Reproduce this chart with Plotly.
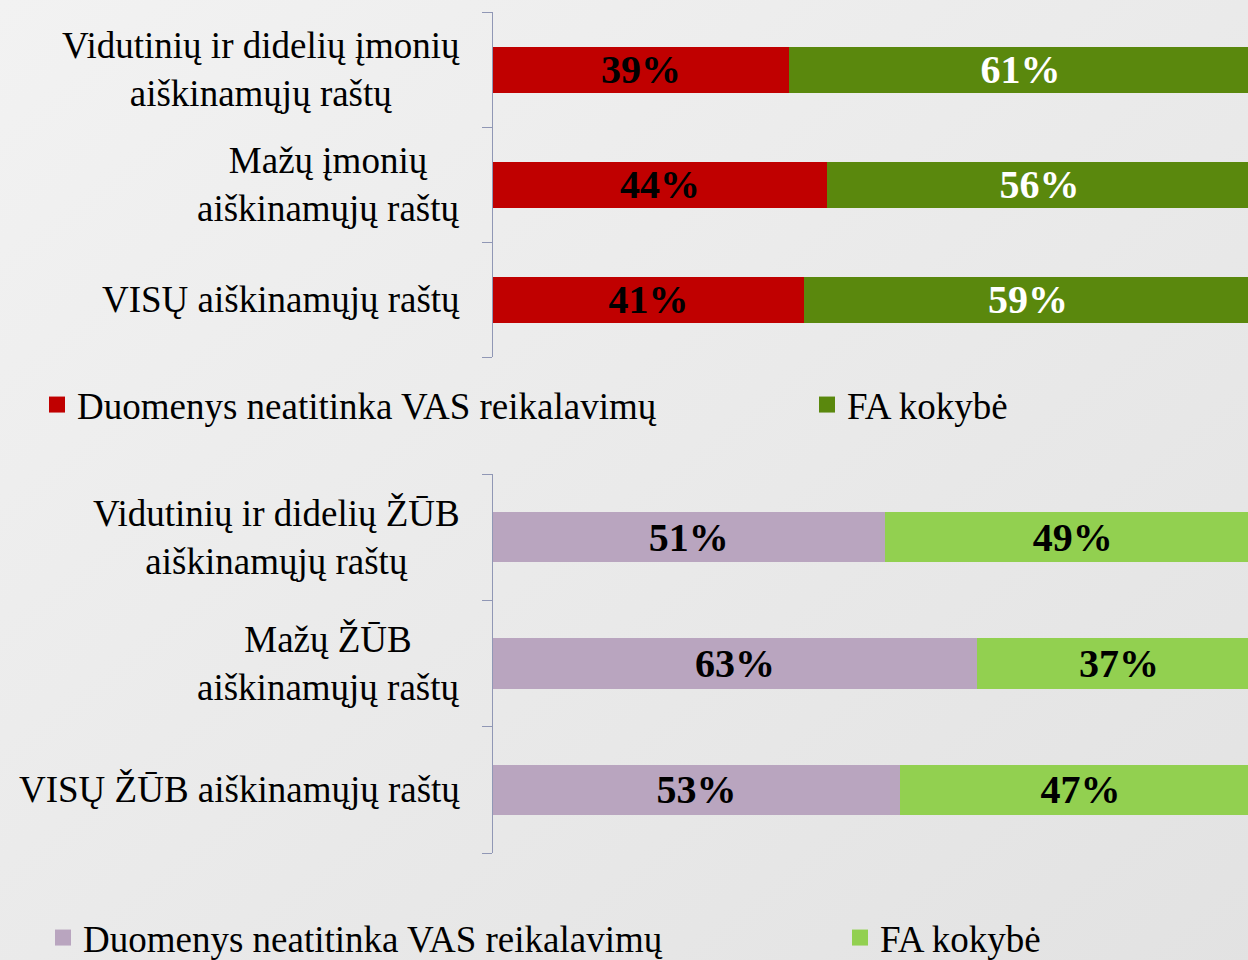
import base64
import plotly.graph_objects as go

# ---- data ----
cats_top = ["Vidutinių ir didelių įmonių<br>aiškinamųjų raštų",
            "Mažų įmonių<br>aiškinamųjų raštų",
            "VISŲ aiškinamųjų raštų"]
neatitinka_top = [39, 44, 41]
fa_top = [61, 56, 59]

cats_bot = ["Vidutinių ir didelių ŽŪB<br>aiškinamųjų raštų",
            "Mažų ŽŪB<br>aiškinamųjų raštų",
            "VISŲ ŽŪB aiškinamųjų raštų"]
neatitinka_bot = [51, 63, 53]
fa_bot = [49, 37, 47]

series_names = ["Duomenys neatitinka VAS reikalavimų", "FA kokybė"]

FONT = "Liberation Serif, Times New Roman, serif"
BG = "#ebebeb"
AXIS = "#9097b5"
LBL = 37

W, H = 1248, 985   # figure a bit taller than the window; bottom legend is cut like the reference
x0 = 493 / W

fig = go.Figure()

def add_bars(cats, a, b, xa, ya, legends, colors, txtcolors):
    for vals, name, col, tc, lg in zip([a, b], series_names, colors, txtcolors, legends):
        fig.add_trace(go.Bar(
            y=cats, x=[v / 100 for v in vals], orientation="h", name=name,
            marker=dict(color=col, line=dict(width=0)),
            text=[f"{v}%" for v in vals], textposition="inside",
            insidetextanchor="middle", constraintext="none",
            textfont=dict(family=FONT, size=40, color=tc, weight="bold"),
            width=0.4, xaxis=xa, yaxis=ya, showlegend=False,
            hoverinfo="skip"))
        fig.add_trace(go.Scatter(
            x=[None], y=[None], mode="markers", name=name,
            marker=dict(symbol="square", size=17, color=col),
            xaxis=xa, yaxis=ya, legend=lg, showlegend=True, hoverinfo="skip"))

add_bars(cats_top, neatitinka_top, fa_top, "x", "y", ["legend", "legend2"],
         ["#c00000", "#5a880d"], ["black", "white"])
add_bars(cats_bot, neatitinka_bot, fa_bot, "x2", "y2", ["legend3", "legend4"],
         ["#b9a5bf", "#92d050"], ["black", "black"])

def yaxis_cfg(cats, top_px, bot_px, anchor):
    return dict(domain=[1 - bot_px / H, 1 - top_px / H],
                categoryorder="array", categoryarray=cats[::-1],
                autorange=False, range=[-0.5, 2.5],
                showticklabels=False, ticks="outside", tickson="boundaries",
                ticklen=10, tickcolor=AXIS, tickwidth=1,
                showline=True, linecolor=AXIS, linewidth=1,
                showgrid=False, zeroline=False, anchor=anchor)

def legend_cfg(text_x_px, y_px):
    return dict(orientation="h", x=(text_x_px - 40) / W, y=1 - y_px / H,
                xanchor="left", yanchor="middle", bgcolor="rgba(0,0,0,0)",
                font=dict(family=FONT, size=LBL, color="black"),
                itemsizing="trace")

# soft diagonal background gradient
svg = ('<svg xmlns="http://www.w3.org/2000/svg" width="100" height="100" '
       'preserveAspectRatio="none"><defs><linearGradient id="g" x1="0" y1="0" '
       'x2="1" y2="1"><stop offset="0" stop-color="#f2f2f2"/>'
       '<stop offset="1" stop-color="#e2e2e2"/></linearGradient></defs>'
       '<rect width="100" height="100" fill="url(#g)"/></svg>')
bg_src = "data:image/svg+xml;base64," + base64.b64encode(svg.encode()).decode()

fig.update_layout(
    width=W, height=H, barmode="stack",
    margin=dict(l=0, r=0, t=0, b=0),
    paper_bgcolor=BG, plot_bgcolor="rgba(0,0,0,0)",
    font=dict(family=FONT, size=LBL, color="black"),
    images=[dict(source=bg_src, xref="paper", yref="paper", x=0, y=1,
                 sizex=1, sizey=1, xanchor="left", yanchor="top",
                 sizing="stretch", layer="below")],
    xaxis=dict(domain=[x0, 1], range=[0, (W - 493) / 759], visible=False, anchor="y"),
    xaxis2=dict(domain=[x0, 1], range=[0, (W - 493) / 768], visible=False, anchor="y2"),
    yaxis=yaxis_cfg(cats_top, 12, 357, "x"),
    yaxis2=yaxis_cfg(cats_bot, 474, 853, "x2"),
    legend=legend_cfg(77, 405),
    legend2=legend_cfg(847, 405),
    legend3=legend_cfg(83, 938),
    legend4=legend_cfg(880, 938),
)

# category labels: lines centred on each other, block right-aligned next to the axis
for cats, ya in [(cats_top, "y"), (cats_bot, "y2")]:
    for c in cats:
        fig.add_annotation(text=c, xref="paper", yref=ya, x=462 / W, y=c,
                           xanchor="right", yanchor="middle", align="center",
                           showarrow=False,
                           font=dict(family=FONT, size=LBL, color="black"))

fig.write_html(
    "out.html",
    config={"displayModeBar": False},
    post_script=("var s=document.documentElement.style;s.margin='0';s.padding='0';"
                 "s.overflow='hidden';s.height='960px';s.background='#e6e6e6';"
                 "var b=document.body.style;b.margin='0';b.padding='0';"
                 "b.overflow='hidden';b.height='960px';b.background='#e6e6e6';"),
)
